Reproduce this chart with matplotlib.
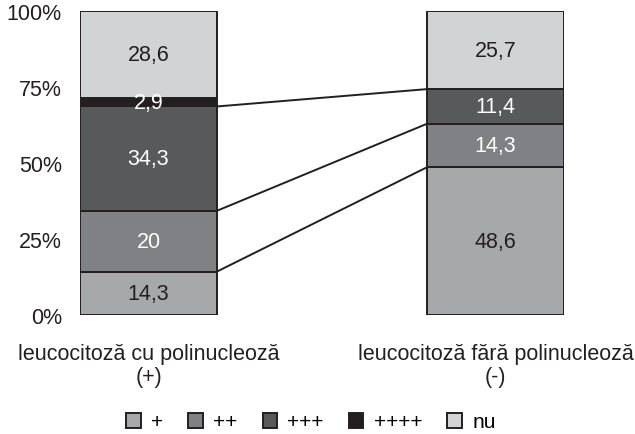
import matplotlib
matplotlib.use("Agg")
import matplotlib.pyplot as plt
from matplotlib.patches import Patch
import numpy as np

categories = ["leucocitoză cu polinucleoză\n(+)", "leucocitoză fără polinucleoză\n(-)"]
series_names = ["+", "++", "+++", "++++", "nu"]
values_plus = [14.3, 48.6]
values_2plus = [20, 14.3]
values_3plus = [34.3, 11.4]
values_4plus = [2.9, 0]
values_nu = [28.6, 25.7]
label_texts = [["14,3", "48,6"], ["20", "14,3"], ["34,3", "11,4"], ["2,9", ""], ["28,6", "25,7"]]
yticks = [0, 25, 50, 75, 100]
ytick_labels = ["0%", "25%", "50%", "75%", "100%"]

colors = ["#a7a8aa", "#808184", "#58595b", "#231f20", "#d1d3d4"]
text_colors = ["#231f20", "white", "white", "white", "#231f20"]

plt.rcParams['font.family'] = ['Liberation Sans', 'DejaVu Sans']
FS = 15.5

fig = plt.figure(figsize=(6.35, 4.35), dpi=100)
ax = fig.add_axes([80/635, 1-316/435, (564-80)/635, (316-12)/435])

series = [values_plus, values_2plus, values_3plus, values_4plus, values_nu]
x = np.arange(len(categories))
width = 0.395
bottoms = np.zeros(len(categories))
tops = []
for i, vals in enumerate(series):
    vals = np.array(vals, dtype=float)
    ax.bar(x, vals, width, bottom=bottoms, color=colors[i], edgecolor="#231f20", linewidth=1.4, zorder=2)
    for j in range(len(categories)):
        if vals[j] > 0 and label_texts[i][j]:
            ax.text(x[j], bottoms[j] + vals[j]/2, label_texts[i][j], ha="center", va="center",
                    color=text_colors[i], fontsize=FS, zorder=3)
    bottoms = bottoms + vals
    tops.append(bottoms.copy())

# series lines
for k in range(3):
    ax.plot([x[0] + width/2, x[1] - width/2], [tops[k][0], tops[k][1]], color="#231f20", lw=1.4, zorder=1)

ax.set_xlim(-width/2, 1 + width/2)
ax.set_ylim(0, 100)
ax.set_yticks(yticks)
ax.set_yticklabels(ytick_labels, fontsize=FS, color="#231f20")
ax.set_xticks(x)
ax.set_xticklabels(categories, fontsize=FS, color="#231f20", linespacing=1.15)
ax.tick_params(axis="both", length=0)
ax.tick_params(axis="y", pad=13)
ax.tick_params(axis="x", pad=20)
for s in ax.spines.values():
    s.set_visible(False)

handles = [Patch(facecolor=c, edgecolor="#231f20", linewidth=1.4) for c in colors]
fig.legend(handles, series_names, loc="center", bbox_to_anchor=(311/635, 1-423/435), ncol=5,
           frameon=False, fontsize=15, handlelength=0.7, handleheight=0.7, handletextpad=0.5,
           columnspacing=1.2)

fig.savefig("out.png", dpi=100)
